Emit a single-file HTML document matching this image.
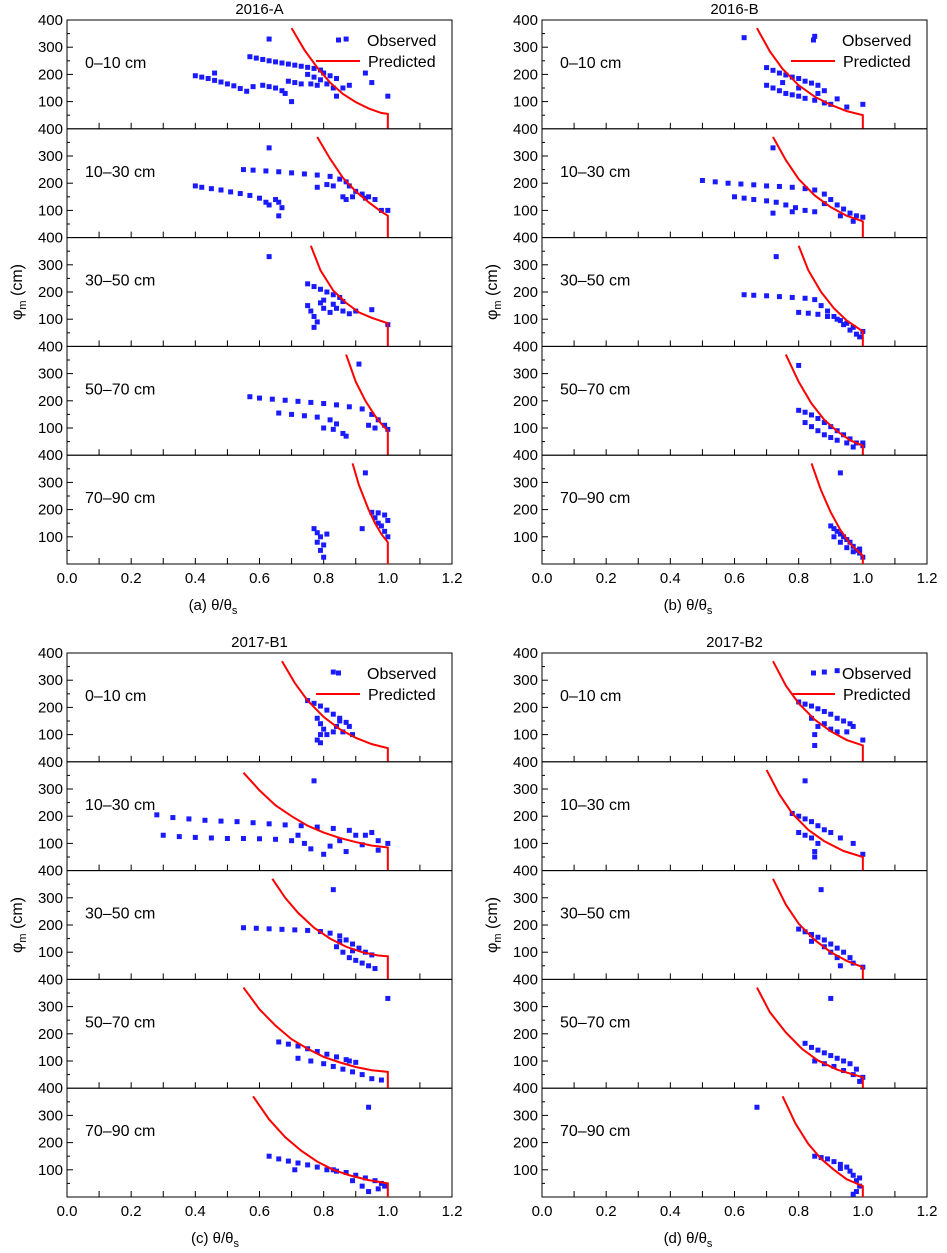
<!DOCTYPE html>
<html><head><meta charset="utf-8"><style>
body{margin:0;background:#fff;}
svg{display:block;font-family:"Liberation Sans",Arial,sans-serif;}
</style></head><body>
<svg id="chart" width="947" height="1253" viewBox="0 0 947 1253" xmlns="http://www.w3.org/2000/svg"></svg>
<script>
const depths = ["0–10 cm","10–30 cm","30–50 cm","50–70 cm","70–90 cm"];
const panelTitles = ["2016-A","2016-B","2017-B1","2017-B2"];
const panelXLabels = ["(a)","(b)","(c)","(d)"];
const xTicks = [0,0.2,0.4,0.6,0.8,1.0,1.2];
const yTicks = [100,200,300,400];

// predicted curves [x,phi]
const predA = [
 [[0.70,370],[0.74,290],[0.78,225],[0.82,170],[0.86,128],[0.90,98],[0.94,75],[0.98,58],[1.0,55],[1.0,0]],
 [[0.78,370],[0.82,290],[0.86,220],[0.90,170],[0.94,130],[0.98,95],[1.0,80],[1.0,0]],
 [[0.76,370],[0.79,280],[0.83,205],[0.87,160],[0.91,125],[0.95,105],[1.0,85],[1.0,0]],
 [[0.87,370],[0.90,270],[0.93,200],[0.96,145],[0.98,115],[1.0,90],[1.0,0]],
 [[0.89,370],[0.91,290],[0.94,200],[0.96,150],[0.98,110],[1.0,80],[1.0,0]]
];
const predB = [
 [[0.67,370],[0.71,285],[0.75,220],[0.80,160],[0.85,118],[0.90,88],[0.95,65],[1.0,50],[1.0,0]],
 [[0.72,370],[0.76,285],[0.80,215],[0.85,155],[0.90,112],[0.95,80],[1.0,60],[1.0,0]],
 [[0.80,370],[0.83,280],[0.87,200],[0.91,140],[0.95,95],[1.0,55],[1.0,0]],
 [[0.76,370],[0.80,270],[0.84,190],[0.88,130],[0.92,88],[0.96,55],[1.0,35],[1.0,0]],
 [[0.84,370],[0.87,270],[0.90,190],[0.93,125],[0.96,75],[1.0,30],[1.0,0]]
];
const predC = [
 [[0.67,370],[0.71,290],[0.75,225],[0.80,165],[0.85,120],[0.90,88],[0.95,65],[1.0,50],[1.0,0]],
 [[0.55,360],[0.60,295],[0.65,240],[0.70,200],[0.75,165],[0.80,140],[0.85,120],[0.90,105],[0.95,92],[1.0,85],[1.0,0]],
 [[0.64,370],[0.68,300],[0.72,245],[0.77,190],[0.82,150],[0.87,120],[0.92,100],[0.97,88],[1.0,85],[1.0,0]],
 [[0.55,370],[0.60,290],[0.65,230],[0.70,180],[0.75,145],[0.80,115],[0.85,95],[0.90,78],[0.95,66],[1.0,60],[1.0,0]],
 [[0.58,370],[0.63,285],[0.68,220],[0.73,170],[0.78,130],[0.83,100],[0.88,80],[0.94,62],[1.0,50],[1.0,0]]
];
const predD = [
 [[0.72,370],[0.76,280],[0.80,215],[0.85,155],[0.90,112],[0.95,80],[1.0,60],[1.0,0]],
 [[0.70,370],[0.74,280],[0.78,210],[0.83,150],[0.88,108],[0.94,72],[1.0,50],[1.0,0]],
 [[0.72,370],[0.76,275],[0.80,205],[0.85,145],[0.90,100],[0.95,68],[1.0,45],[1.0,0]],
 [[0.67,370],[0.71,280],[0.76,205],[0.81,145],[0.86,102],[0.92,68],[1.0,40],[1.0,0]],
 [[0.75,370],[0.79,270],[0.83,195],[0.87,140],[0.91,100],[0.95,65],[1.0,40],[1.0,0]]
];
// observed points [x,phi]
const obsA = [
 [[0.63,330],[0.87,330],[0.57,265],[0.59,260],[0.61,255],[0.63,250],[0.65,246],[0.67,242],[0.69,238],[0.71,234],[0.73,230],[0.75,226],[0.77,222],[0.79,216],[0.80,205],[0.82,195],[0.84,185],[0.40,195],[0.42,190],[0.44,185],[0.46,178],[0.48,172],[0.50,165],[0.52,158],[0.54,148],[0.56,138],[0.58,155],[0.61,160],[0.63,155],[0.65,150],[0.67,140],[0.68,130],[0.69,175],[0.71,170],[0.73,165],[0.75,200],[0.77,190],[0.79,180],[0.81,165],[0.83,150],[0.86,150],[0.88,160],[0.70,100],[0.84,120],[0.93,205],[0.95,170],[1.0,120],[0.46,205],[0.76,165],[0.78,160]],
 [[0.63,330],[0.55,250],[0.58,248],[0.62,245],[0.66,242],[0.70,238],[0.74,234],[0.78,230],[0.82,225],[0.85,215],[0.87,205],[0.88,190],[0.90,170],[0.92,160],[0.94,150],[0.96,140],[1.0,100],[0.98,100],[0.40,190],[0.42,185],[0.45,180],[0.48,175],[0.51,168],[0.54,162],[0.57,155],[0.60,145],[0.62,130],[0.63,120],[0.65,140],[0.66,130],[0.67,110],[0.66,80],[0.78,185],[0.81,195],[0.83,190],[0.86,150],[0.87,140],[0.89,150],[0.93,145]],
 [[0.63,330],[0.75,230],[0.77,220],[0.79,210],[0.81,200],[0.83,190],[0.85,180],[0.86,165],[0.75,150],[0.76,130],[0.77,110],[0.78,90],[0.77,70],[0.79,160],[0.80,140],[0.82,125],[0.84,140],[0.86,130],[0.88,120],[0.90,130],[0.95,135],[1.0,80],[0.80,170],[0.83,155]],
 [[0.91,335],[0.57,215],[0.60,210],[0.64,206],[0.68,202],[0.72,198],[0.76,194],[0.80,190],[0.84,185],[0.88,178],[0.92,170],[0.95,150],[0.97,130],[0.99,110],[1.0,95],[0.66,155],[0.70,150],[0.74,145],[0.78,140],[0.82,130],[0.84,115],[0.80,100],[0.83,95],[0.86,80],[0.87,70],[0.94,110],[0.96,100]],
 [[0.93,335],[0.77,130],[0.78,115],[0.79,100],[0.78,80],[0.80,70],[0.79,50],[0.80,25],[0.81,110],[0.92,130],[0.95,190],[0.97,188],[0.99,180],[1.0,160],[0.98,140],[0.99,120],[1.0,100],[0.96,170],[0.97,150]]
];
const obsB = [
 [[0.63,335],[0.85,340],[0.70,225],[0.72,215],[0.74,205],[0.76,198],[0.78,190],[0.80,185],[0.82,175],[0.84,168],[0.86,160],[0.70,160],[0.72,150],[0.74,140],[0.76,130],[0.78,125],[0.80,120],[0.82,112],[0.85,105],[0.88,95],[0.90,90],[0.95,80],[1.0,90],[0.88,140],[0.92,110],[0.75,170],[0.80,150],[0.86,130]],
 [[0.72,330],[0.50,210],[0.54,205],[0.58,200],[0.62,197],[0.66,194],[0.70,190],[0.74,188],[0.78,185],[0.82,180],[0.85,175],[0.88,160],[0.90,140],[0.92,120],[0.94,105],[0.96,90],[0.98,80],[1.0,75],[0.60,150],[0.63,145],[0.66,140],[0.70,135],[0.73,130],[0.76,120],[0.79,110],[0.82,100],[0.85,95],[0.72,90],[0.78,95],[0.88,125],[0.93,80],[0.97,60]],
 [[0.73,330],[0.63,190],[0.66,188],[0.70,186],[0.74,183],[0.78,180],[0.82,177],[0.85,172],[0.87,150],[0.89,130],[0.91,110],[0.93,95],[0.95,85],[0.97,70],[1.0,55],[0.80,125],[0.83,122],[0.86,118],[0.89,110],[0.92,100],[0.94,80],[0.96,60],[0.98,45],[0.99,35]],
 [[0.80,330],[0.80,165],[0.82,158],[0.84,148],[0.86,135],[0.88,120],[0.90,105],[0.92,90],[0.94,75],[0.96,60],[0.98,45],[1.0,35],[0.82,120],[0.84,105],[0.86,90],[0.88,75],[0.90,65],[0.92,55],[0.95,45],[0.97,30],[1.0,45]],
 [[0.93,335],[0.90,140],[0.91,130],[0.92,120],[0.93,110],[0.94,100],[0.95,90],[0.96,80],[0.97,65],[0.98,50],[0.99,40],[1.0,25],[0.91,100],[0.93,80],[0.95,60],[0.97,45],[0.99,55]]
];
const obsC = [
 [[0.83,330],[0.75,225],[0.77,215],[0.79,205],[0.81,190],[0.83,175],[0.85,160],[0.87,145],[0.88,130],[0.86,110],[0.78,160],[0.79,140],[0.80,120],[0.79,100],[0.78,80],[0.79,70],[0.81,100],[0.83,110],[0.85,150],[0.84,130],[0.89,100]],
 [[0.77,330],[0.28,205],[0.33,195],[0.38,190],[0.43,185],[0.48,182],[0.53,180],[0.58,176],[0.63,172],[0.68,168],[0.73,165],[0.78,160],[0.83,155],[0.88,148],[0.93,130],[0.97,110],[1.0,100],[0.30,130],[0.35,125],[0.40,122],[0.45,120],[0.50,118],[0.55,118],[0.60,117],[0.65,115],[0.70,110],[0.74,100],[0.76,80],[0.80,60],[0.82,90],[0.85,110],[0.87,70],[0.90,130],[0.92,95],[0.95,140],[0.97,75],[0.72,130]],
 [[0.83,330],[0.55,190],[0.59,188],[0.63,186],[0.67,184],[0.71,182],[0.75,180],[0.79,176],[0.82,170],[0.85,160],[0.87,145],[0.89,130],[0.91,115],[0.93,100],[0.95,90],[0.84,120],[0.86,100],[0.88,80],[0.90,70],[0.92,60],[0.94,50],[0.96,40],[0.85,140],[0.89,105]],
 [[1.0,330],[0.66,170],[0.69,162],[0.72,155],[0.75,145],[0.78,135],[0.81,125],[0.84,115],[0.87,105],[0.90,95],[0.72,110],[0.76,100],[0.80,90],[0.83,80],[0.86,70],[0.89,60],[0.92,50],[0.95,35],[0.98,30],[0.88,100]],
 [[0.94,330],[0.63,150],[0.66,140],[0.69,132],[0.72,125],[0.75,118],[0.78,110],[0.81,100],[0.84,95],[0.87,90],[0.90,80],[0.93,70],[0.96,60],[0.98,50],[0.71,100],[0.83,100],[0.89,60],[0.92,40],[0.94,20],[0.97,30],[0.99,40]]
];
const obsD = [
 [[0.88,330],[0.92,335],[0.80,220],[0.82,212],[0.84,205],[0.86,195],[0.88,185],[0.90,175],[0.92,160],[0.94,150],[0.96,140],[1.0,80],[0.85,60],[0.85,100],[0.86,130],[0.84,160],[0.88,140],[0.90,120],[0.92,110],[0.95,110],[0.97,130]],
 [[0.82,330],[0.78,210],[0.80,200],[0.82,190],[0.84,180],[0.86,165],[0.88,150],[0.90,140],[0.93,120],[0.97,100],[1.0,60],[0.80,140],[0.82,130],[0.84,120],[0.86,100],[0.85,70],[0.85,50]],
 [[0.87,330],[0.80,185],[0.82,175],[0.84,165],[0.86,155],[0.88,145],[0.90,130],[0.92,115],[0.94,100],[0.96,80],[0.97,60],[0.84,140],[0.88,120],[0.90,100],[0.92,80],[0.93,50],[1.0,45]],
 [[0.90,330],[0.82,165],[0.84,150],[0.86,140],[0.88,130],[0.90,120],[0.92,110],[0.94,100],[0.96,90],[0.98,70],[1.0,40],[0.85,100],[0.88,90],[0.91,80],[0.94,65],[0.97,50],[0.99,25]],
 [[0.67,330],[0.85,150],[0.87,145],[0.89,140],[0.91,130],[0.93,120],[0.95,110],[0.96,95],[0.97,80],[0.98,60],[0.99,40],[0.98,20],[0.97,10],[0.99,70],[0.93,105]]
];
const preds=[predA,predB,predC,predD];
const obss=[obsA,obsB,obsC,obsD];

const NS="http://www.w3.org/2000/svg";
const svg=document.getElementById('chart');
function mk(tag,attrs,parent){const e=document.createElementNS(NS,tag);for(const k in attrs)e.setAttribute(k,attrs[k]);(parent||svg).appendChild(e);return e;}
function txt(s,x,y,size,anchor,parent){const t=mk('text',{x:x,y:y,'font-size':size,'text-anchor':anchor||'start',fill:'#000'},parent);t.textContent=s;return t;}

const panels=[{l:67,t:20,lx:213},{l:542,t:20,lx:688},{l:67,t:653,lx:215},{l:542,t:653,lx:688}];
const W=385, H=108.8;
panels.forEach((p,pi)=>{
  const g=mk('g',{});
  
  
  const sx=v=>p.l+W*v/1.2;
  const tt=txt(panelTitles[pi],p.l+W/2,p.t-6,15,'middle',g);
  
  
  for(let s=0;s<5;s++){
    const top=p.t+s*H;
    const sy=v=>top+H*(1-v/400);
    const sg=mk('g',{},g);
    
    
    mk('rect',{x:p.l,y:top,width:W,height:H,fill:'none',stroke:'#000','stroke-width':1},sg);
    for(let i=1;i<12;i++){const x=sx(i*0.1);mk('line',{x1:x,y1:top+H,x2:x,y2:top+H-6,stroke:'#000','stroke-width':1},sg);}
    for(let v=50;v<400;v+=50){const y=sy(v);mk('line',{x1:p.l,y1:y,x2:p.l+(v%100?3:6),y2:y,stroke:'#000','stroke-width':1},sg);}
    yTicks.forEach(v=>{const t=txt(String(v),p.l-4,sy(v)+5,15,'end',sg);});
    const dl=txt(depths[s],p.l+18,top+48,16,'start',sg);
    
    
    obss[pi][s].forEach(d=>{
      const r=mk('rect',{x:sx(d[0])-2.5,y:sy(d[1])-2.5,width:5,height:5,fill:'#1a1aff'},sg);
      
      
    });
    const pl=mk('polyline',{points:preds[pi][s].map(d=>sx(d[0])+','+sy(d[1])).join(' '),fill:'none',stroke:'#ff0000','stroke-width':2},sg);
    
    
  }
  const lg=mk('g',{},g);
  
  
  mk('rect',{x:p.l+269,y:p.t+17.5,width:5,height:5,fill:'#1a1aff'},lg);
  txt('Observed',p.l+300,p.t+26,16,'start',lg);
  mk('line',{x1:p.l+249,y1:p.t+41,x2:p.l+293,y2:p.t+41,stroke:'#ff0000','stroke-width':2},lg);
  txt('Predicted',p.l+301,p.t+47,16,'start',lg);
  const bottom=p.t+5*H;
  xTicks.forEach(v=>{const t=txt(v.toFixed(1),sx(v),bottom+19,15,'middle',g);});
  const xl=mk('text',{x:p.lx,y:bottom+46,'font-size':15,'text-anchor':'middle'},g);
  xl.innerHTML=panelXLabels[pi]+' θ/θ<tspan font-size="11" dy="4">s</tspan>';
  
  
  const yl=mk('text',{x:0,y:0,'font-size':16,'text-anchor':'middle',transform:`translate(${p.l-45},${p.t+2.5*H}) rotate(-90)`},g);
  yl.innerHTML='φ<tspan font-size="11" dy="4">m</tspan><tspan dy="-4"> (cm)</tspan>';
  
  
});
</script>
</body></html>
